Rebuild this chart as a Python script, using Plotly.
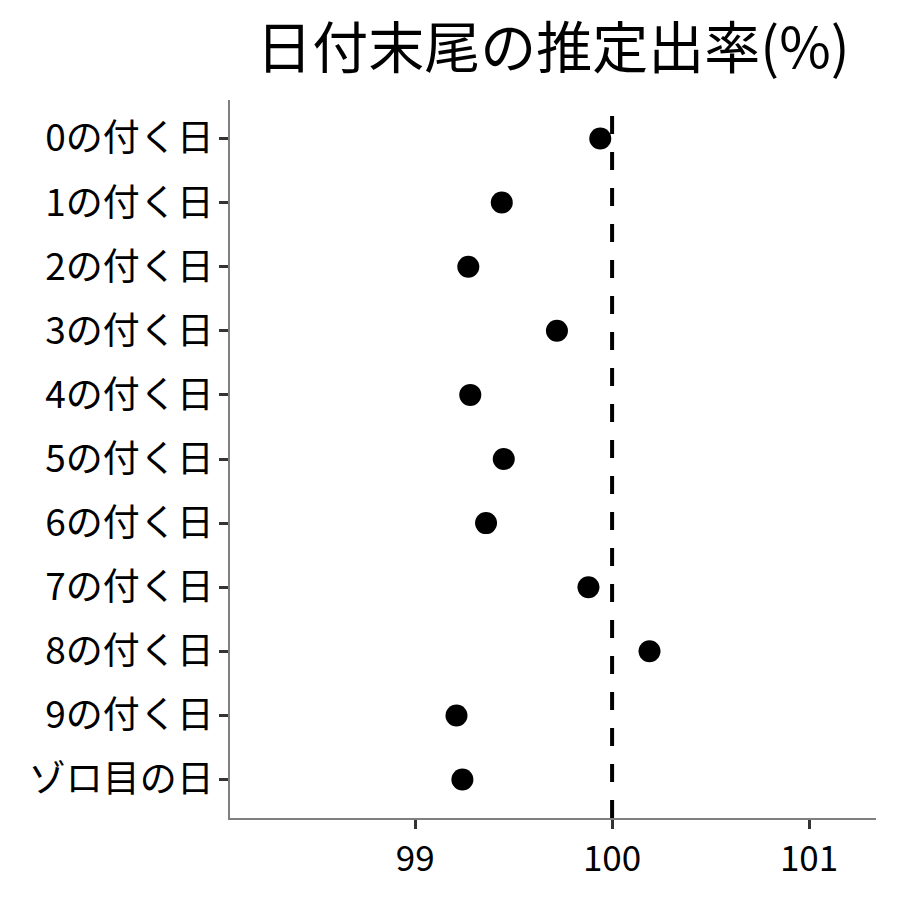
import plotly.graph_objects as go

categories = ["0の付く日", "1の付く日", "2の付く日", "3の付く日", "4の付く日", "5の付く日",
              "6の付く日", "7の付く日", "8の付く日", "9の付く日", "ゾロ目の日"]
rates = [99.94, 99.44, 99.27, 99.72, 99.28, 99.45, 99.36, 99.88, 100.19, 99.21, 99.24]
x_ticks = [99, 100, 101]
ref_value = 100

FONT = "Noto Sans CJK JP"

fig = go.Figure()
fig.add_trace(go.Scatter(
    x=rates, y=categories, mode="markers",
    marker=dict(color="black", size=22, line=dict(width=0)),
    showlegend=False, cliponaxis=False,
))
fig.add_shape(type="line", x0=ref_value, x1=ref_value, xref="x", y0=0, y1=1, yref="paper",
              line=dict(color="black", width=4, dash="18px,18px"), layer="above")

fig.update_layout(
    width=900, height=900,
    paper_bgcolor="white", plot_bgcolor="white",
    margin=dict(l=222, r=32, t=92, b=90),
    font=dict(family=FONT, color="black"),
    title=dict(text="日付末尾の推定出率(%)", x=0.5, xref="paper", xanchor="center",
               y=0.955, yref="container", yanchor="middle",
               font=dict(family=FONT, size=56, color="black")),
)
fig.update_xaxes(
    range=[98.06, 101.34], tickvals=x_ticks, ticktext=[str(v) for v in x_ticks],
    showgrid=False, zeroline=False,
    showline=True, linecolor="#7f7f7f", linewidth=1.5,
    ticks="outside", ticklen=9, tickwidth=2.5, tickcolor="#333333",
    tickfont=dict(family=FONT, size=35, color="black"),
)
fig.update_yaxes(
    type="category", categoryorder="array", categoryarray=categories,
    range=[10.6, -0.6],
    showgrid=False, zeroline=False,
    showline=True, linecolor="#7f7f7f", linewidth=1.5,
    ticks="outside", ticklen=9, tickwidth=2.5, tickcolor="#333333",
    tickfont=dict(family=FONT, size=37, color="black"),
    ticklabelstandoff=-2,
)

fig.write_html("out.html")
